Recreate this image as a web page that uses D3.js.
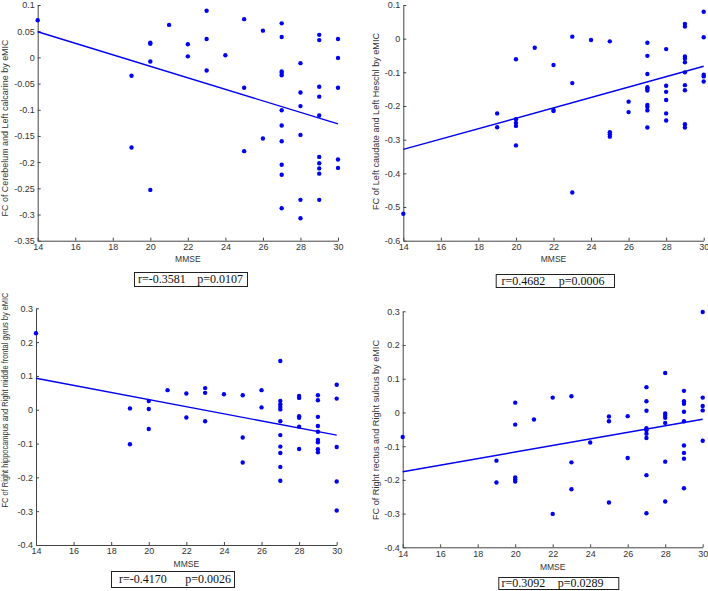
<!DOCTYPE html>
<html lang="en">
<head>
<meta charset="UTF-8" />
<title>FC vs MMSE</title>
<script src="https://d3js.org/d3.v7.min.js"></script>
<style>
  body { margin: 0; background: #fff; }
  svg { display: block; }
  .tick text { font-family: "Liberation Sans", Arial, sans-serif; font-size: 9px; fill: #333; }
  .axis path, .axis line { stroke: #444; }
  .lab { font-family: "Liberation Sans", Arial, sans-serif; font-size: 8.5px; fill: #333; }
  .stat { font-family: "Liberation Serif", "Times New Roman", serif; font-size: 12px; fill: #111; }
</style>
</head>
<body>
<svg id="chart" width="708" height="591"></svg>
<script>
// x ticks (MMSE)
const xTicks = [14, 16, 18, 20, 22, 24, 26, 28, 30];

// [MMSE, FC]
const pointsA = [[14,0.071],[19,-0.035],[19,-0.172],[20,0.028],[20,0.026],[20,-0.008],[20,-0.253],[21,0.062],[22,0.025],[22,0.002],
  [23,0.089],[23,0.035],[23,-0.025],[24,0.004],[25,0.073],[25,-0.058],[25,-0.179],[26,0.051],[26,-0.155],
  [27,0.065],[27,0.039],[27,-0.027],[27,-0.030],[27,-0.034],[27,-0.101],[27,-0.130],[27,-0.160],[27,-0.205],[27,-0.224],[27,-0.288],
  [28,-0.011],[28,-0.067],[28,-0.093],[28,-0.148],[28,-0.272],[28,-0.307],
  [29,0.043],[29,0.033],[29,-0.056],[29,-0.075],[29,-0.111],[29,-0.190],[29,-0.202],[29,-0.212],[29,-0.222],[29,-0.272],
  [30,0.035],[30,-0.001],[30,-0.058],[30,-0.195],[30,-0.211]];
const pointsB = [[14,-0.520],[19,-0.222],[19,-0.263],[20,-0.061],[20,-0.239],[20,-0.250],[20,-0.259],[20,-0.317],[21,-0.027],
  [22,-0.078],[22,-0.212],[22,-0.215],[23,0.006],[23,-0.132],[23,-0.457],[24,-0.004],[25,-0.008],[25,-0.278],[25,-0.284],[25,-0.291],
  [26,-0.187],[26,-0.218],
  [27,-0.012],[27,-0.051],[27,-0.105],[27,-0.144],[27,-0.149],[27,-0.154],[27,-0.197],[27,-0.203],[27,-0.213],[27,-0.264],
  [28,-0.031],[28,-0.140],[28,-0.158],[28,-0.182],[28,-0.222],[28,-0.243],
  [29,0.044],[29,0.036],[29,-0.053],[29,-0.059],[29,-0.070],[29,-0.100],[29,-0.138],[29,-0.153],[29,-0.254],[29,-0.264],
  [30,0.080],[30,0.004],[30,-0.107],[30,-0.112],[30,-0.127]];
const pointsC = [[14,0.226],[19,0.004],[19,-0.102],[20,0.026],[20,0.002],[20,-0.057],[21,0.058],[22,0.048],[22,-0.023],
  [23,0.064],[23,0.050],[23,-0.034],[24,0.046],[25,0.043],[25,-0.082],[25,-0.156],[26,0.058],[26,0.007],
  [27,0.144],[27,0.026],[27,0.016],[27,0.008],[27,0.001],[27,-0.034],[27,-0.075],[27,-0.109],[27,-0.128],[27,-0.169],[27,-0.210],
  [28,0.041],[28,0.035],[28,-0.019],[28,-0.024],[28,-0.050],[28,-0.116],
  [29,0.043],[29,0.028],[29,-0.021],[29,-0.048],[29,-0.065],[29,-0.089],[29,-0.096],[29,-0.117],[29,-0.126],
  [30,0.074],[30,0.033],[30,-0.110],[30,-0.212],[30,-0.298]];
const pointsD = [[14,-0.073],[19,-0.143],[19,-0.208],[20,0.029],[20,-0.036],[20,-0.193],[20,-0.199],[20,-0.205],[21,-0.021],
  [22,0.044],[22,-0.301],[23,0.048],[23,-0.148],[23,-0.228],[24,-0.089],[25,-0.012],[25,-0.026],[25,-0.267],[26,-0.011],[26,-0.135],
  [27,0.075],[27,0.033],[27,0.005],[27,-0.047],[27,-0.053],[27,-0.063],[27,-0.076],[27,-0.186],[27,-0.299],
  [28,0.117],[28,-0.003],[28,-0.010],[28,-0.016],[28,-0.031],[28,-0.146],[28,-0.264],
  [29,0.064],[29,0.033],[29,0.026],[29,0.002],[29,-0.026],[29,-0.098],[29,-0.120],[29,-0.137],[29,-0.225],
  [30,0.298],[30,0.044],[30,0.019],[30,0.006],[30,-0.084]];

// fitted lines (end points)
const fitA = [[14, 0.049], [30, -0.127]];
const fitB = [[14, -0.329], [30, -0.082]];
const fitC = [[14, 0.093], [30, -0.075]];
const fitD = [[14, -0.176], [30, -0.020]];

// y ticks
const yTicksA = [0.1, 0.05, 0, -0.05, -0.1, -0.15, -0.2, -0.25, -0.3, -0.35];
const yTicksB = [0.1, 0, -0.1, -0.2, -0.3, -0.4, -0.5, -0.6];
const yTicksCD = [0.3, 0.2, 0.1, 0, -0.1, -0.2, -0.3, -0.4];

const yLabels = [
  'FC of Cerebelum and Left calcarine by eMIC',
  'FC of Left caudate and Left Heschl by eMIC',
  'FC of Right hippocampus and Right middle frontal gyrus by eMIC',
  'FC of Right rectus and Right sulcus by eMIC'
];
const rTexts = ['r=-0.3581', 'r=0.4682', 'r=-0.4170', 'r=0.3092'];
const pTexts = ['p=0.0107', 'p=0.0006', 'p=0.0026', 'p=0.0289'];

// layout of each panel (pixels)
const panels = [
  { pts: pointsA, fit: fitA, yt: yTicksA, left: 37.7, right: 338, top: 5, bottom: 240.7,
    labX: 5, labY: 128, labLen: 177, mmseY: 262, box: [134, 272, 247, 286], rX: 138, pX: 243 },
  { pts: pointsB, fit: fitB, yt: yTicksB, left: 403.3, right: 703.7, top: 5, bottom: 240.7,
    labX: 376, labY: 121.5, labLen: 177, mmseY: 262, box: [495.7, 274, 614, 287], rX: 501.5, pX: 604.5 },
  { pts: pointsC, fit: fitC, yt: yTicksCD, left: 36, right: 336.7, top: 308.3, bottom: 545,
    labX: 5, labY: 400, labLen: 215, mmseY: 567, box: [111, 571, 234, 587], rX: 119, pX: 231 },
  { pts: pointsD, fit: fitD, yt: yTicksCD, left: 402.7, right: 702.7, top: 311.3, bottom: 547.3,
    labX: 376, labY: 430, labLen: 180, mmseY: 570, box: [498.3, 577, 618.3, 589], rX: 501.5, pX: 603.5 }
];

const svg = d3.select('#chart');
svg.append('rect').attr('width', 708).attr('height', 591).attr('fill', '#fff');

const fmt = d => String(+d.toFixed(2));
const blue = '#0000f0';

panels.forEach((p, i) => {
  const yt = p.yt;
  const x = d3.scaleLinear().domain([14, 30]).range([p.left, p.right]);
  const y = d3.scaleLinear().domain([d3.min(yt), d3.max(yt)]).range([p.bottom, p.top]);
  const g = svg.append('g');

  g.append('g').attr('class', 'axis')
    .attr('transform', `translate(0,${p.bottom})`)
    .call(d3.axisBottom(x).tickValues(xTicks).tickSizeInner(-3).tickSizeOuter(0).tickPadding(3).tickFormat(d3.format('d')));
  g.append('g').attr('class', 'axis')
    .attr('transform', `translate(${p.left},0)`)
    .call(d3.axisLeft(y).tickValues(yt).tickSizeInner(-3).tickSizeOuter(0).tickPadding(3).tickFormat(fmt));

  // regression line
  g.append('path')
    .datum(p.fit)
    .attr('d', d3.line().x(d => x(d[0])).y(d => y(d[1])))
    .attr('fill', 'none').attr('stroke', blue).attr('stroke-width', 1.4);

  // points
  g.selectAll('circle.pt').data(p.pts).join('circle')
    .attr('class', 'pt')
    .attr('cx', d => x(d[0])).attr('cy', d => y(d[1]))
    .attr('r', 2.2).attr('fill', blue);

  // axis labels
  g.append('text').attr('class', 'lab')
    .attr('x', (p.left + p.right) / 2).attr('y', p.mmseY)
    .attr('text-anchor', 'middle').text('MMSE');
  g.append('text').attr('class', 'lab')
    .attr('transform', `translate(${p.labX},${p.labY}) rotate(-90)`)
    .attr('text-anchor', 'middle').attr('dy', '0.35em')
    .attr('textLength', p.labLen).attr('lengthAdjust', 'spacingAndGlyphs')
    .text(yLabels[i]);

  // r / p box
  const b = p.box;
  g.append('rect')
    .attr('x', b[0] + 0.5).attr('y', b[1] + 0.5)
    .attr('width', b[2] - b[0]).attr('height', b[3] - b[1])
    .attr('fill', '#fff').attr('stroke', '#222').attr('stroke-width', 1);
  const ty = (b[1] + b[3]) / 2 + 4;
  g.append('text').attr('class', 'stat').attr('x', p.rX).attr('y', ty).text(rTexts[i]);
  g.append('text').attr('class', 'stat').attr('x', p.pX).attr('y', ty)
    .attr('text-anchor', 'end').text(pTexts[i]);
});
</script>
</body>
</html>
